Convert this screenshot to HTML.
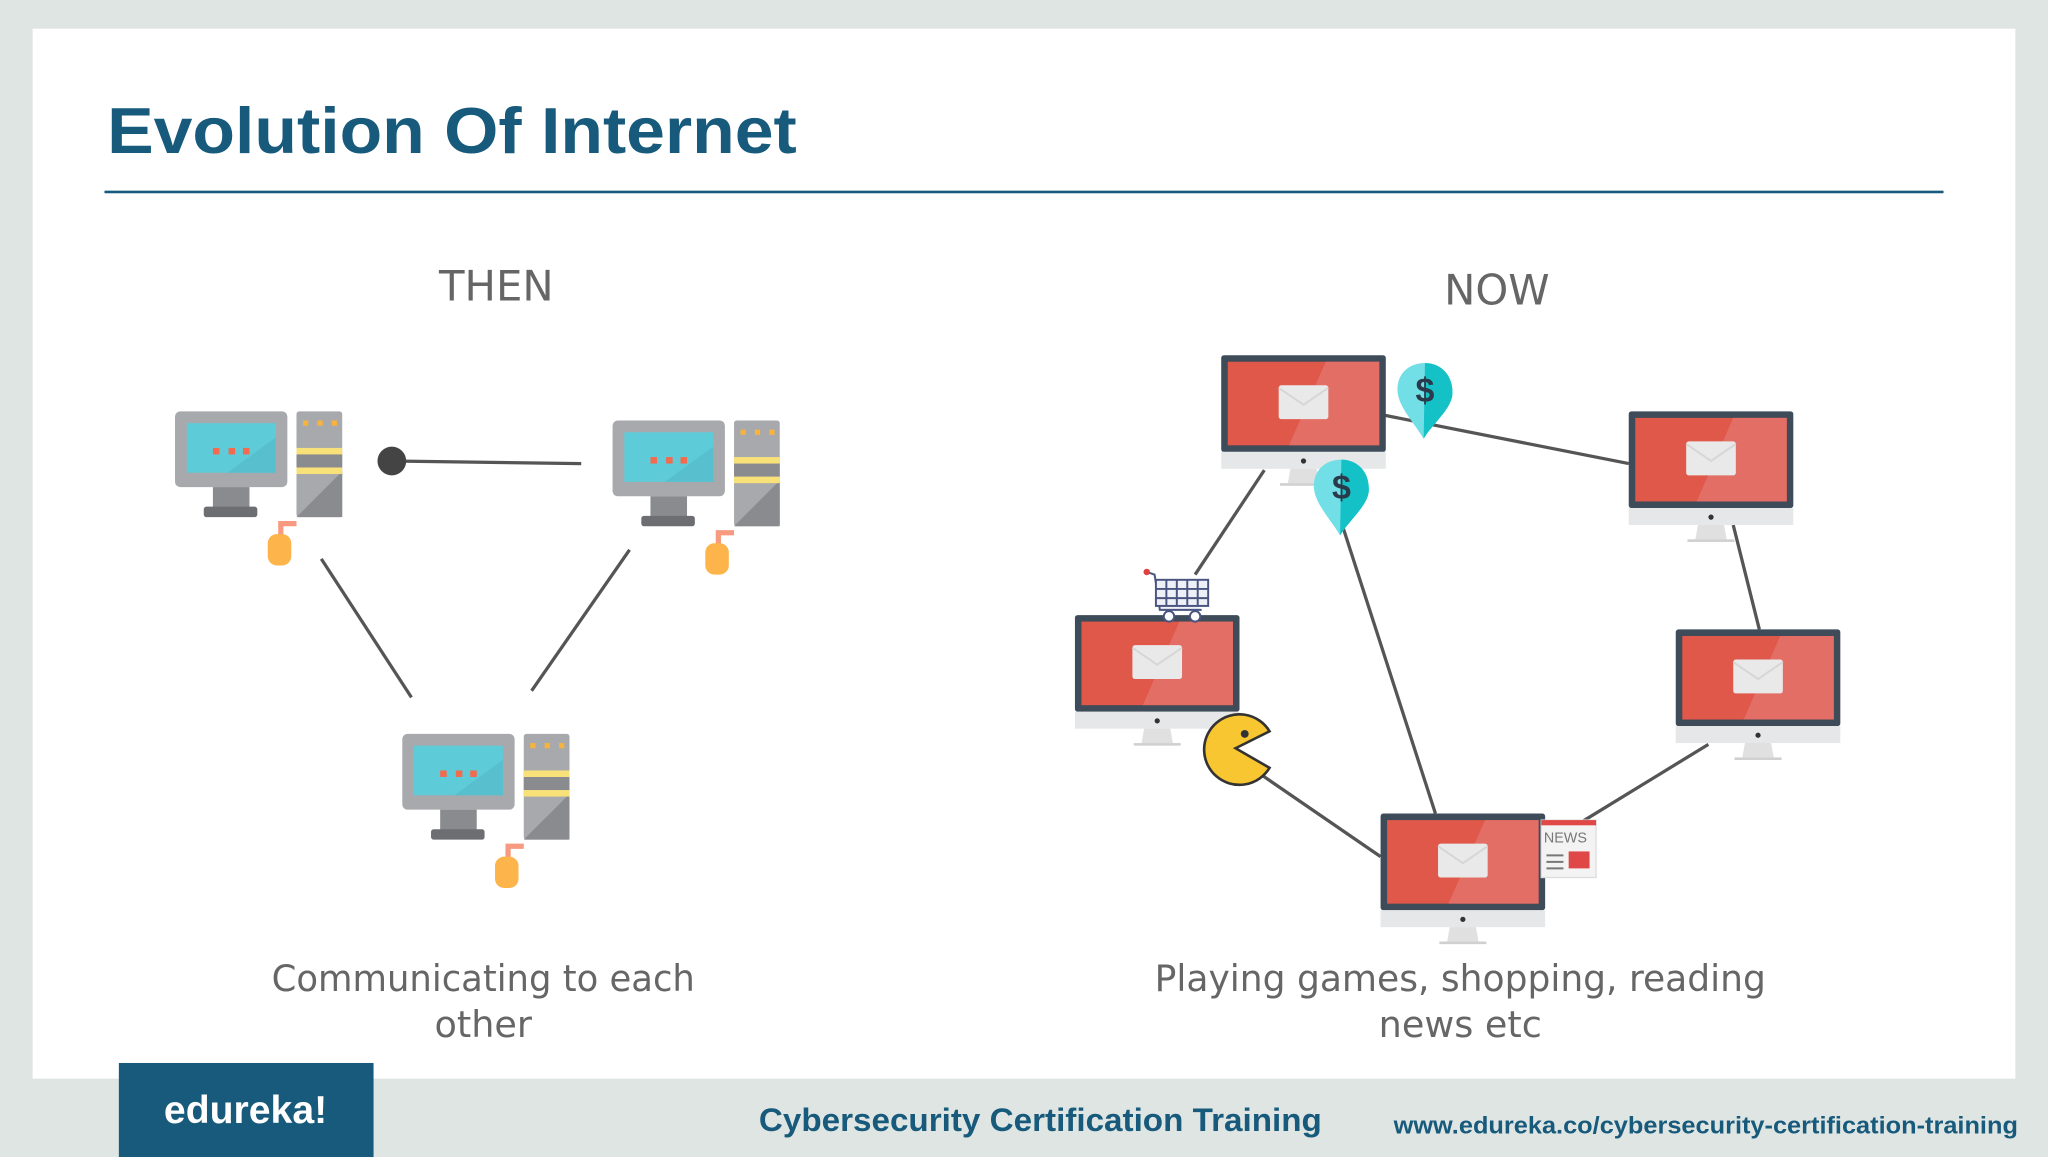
<!DOCTYPE html>
<html><head><meta charset="utf-8"><style>html,body{margin:0;padding:0;background:#dfe5e3}svg{display:block}</style></head>
<body>
<svg width="2048" height="1157" viewBox="0 0 1568 886" preserveAspectRatio="none" xmlns="http://www.w3.org/2000/svg">
<defs>
<g id="old">
<rect x="0" y="0" width="86" height="58" rx="4" fill="#a7a9ac"/>
<rect x="9" y="9" width="68" height="38" fill="#5ecbd9"/>
<path d="M40 47 L77 20 L77 47 Z" fill="#57bfcd"/>
<rect x="29" y="28" width="5" height="5" fill="#f26b4f"/><rect x="41" y="28" width="5" height="5" fill="#f26b4f"/><rect x="52" y="28" width="5" height="5" fill="#f26b4f"/>
<rect x="29" y="58" width="28" height="16" fill="#8a8b8e"/>
<rect x="22" y="73" width="41" height="8" rx="2" fill="#6d6e71"/>
<rect x="93" y="0" width="35" height="81" rx="2" fill="#a7a9ac"/>
<path d="M93 81 L128 46 L128 81 Z" fill="#8a8b8e"/>
<rect x="98" y="7" width="4" height="4" fill="#f7b33b"/><rect x="109" y="7" width="4" height="4" fill="#f7b33b"/><rect x="120" y="7" width="4" height="4" fill="#f7b33b"/>
<rect x="93" y="28" width="35" height="5" fill="#f9e17a"/><rect x="93" y="33" width="35" height="10" fill="#8a8b8e"/><rect x="93" y="43" width="35" height="5" fill="#f9e17a"/>
<path d="M93 86 L81 86 L81 96" stroke="#f79a80" stroke-width="4" fill="none"/>
<rect x="71" y="94" width="18" height="24" rx="7" fill="#fdb44b"/>
</g>
<g id="nw">
<rect x="0" y="0" width="126" height="74" rx="2" fill="#3e4b59"/>
<rect x="5" y="5" width="116" height="64" fill="#e0584a"/>
<path d="M80 5 L121 5 L121 69 L52 69 Z" fill="#e26e66"/>
<rect x="44" y="23" width="38" height="26" rx="2" fill="#e9e9e9"/>
<path d="M44 25 L63 38 L82 25" stroke="#d6d6d6" stroke-width="1.5" fill="none"/>
<rect x="0" y="74" width="126" height="13" fill="#e6e7e8"/>
<circle cx="63" cy="81" r="2" fill="#333"/>
<path d="M53 87 L73 87 L75 98 L51 98 Z" fill="#e0e0e0"/>
<rect x="45" y="98" width="36" height="2" fill="#d0d0d0"/>
</g>
<g id="pin">
<path d="M0 -22 C-13 -22 -22 -13 -21 0 C-20 12 -8 24 -1 36 C6 24 22 12 21 0 C21 -13 12 -22 0 -22 Z" fill="#71dfe5"/>
<path d="M0 -22 C12 -22 21 -13 21 0 C22 12 6 24 -1 36 Z" fill="#14c1c7"/>
<text x="0" y="8" text-anchor="middle" font-family="Liberation Sans, sans-serif" font-weight="bold" font-size="26" fill="#2b3a4a">$</text>
</g>
</defs>
<rect width="1568" height="886" fill="#dfe5e3"/>
<rect x="25" y="22" width="1518" height="804" fill="#fff"/>
<text x="82" y="117" font-family="Liberation Sans, sans-serif" font-weight="bold" font-size="50" fill="#175a7c" textLength="528" lengthAdjust="spacingAndGlyphs">Evolution Of Internet</text>
<rect x="80" y="146" width="1408" height="2" fill="#175a7c"/>

<text x="380" y="230" text-anchor="middle" font-family="DejaVu Sans, sans-serif" font-size="32" fill="#666">THEN</text>
<text x="1146" y="233" text-anchor="middle" font-family="DejaVu Sans, sans-serif" font-size="32" fill="#666">NOW</text>

<g stroke="#555" stroke-width="2.5">
<line x1="300" y1="353" x2="445" y2="355"/>
<line x1="246" y1="428" x2="315" y2="534"/>
<line x1="482" y1="421" x2="407" y2="529"/>
</g>
<circle cx="300" cy="353" r="11" fill="#444"/>
<use href="#old" x="134" y="315"/>
<use href="#old" x="469" y="322"/>
<use href="#old" x="308" y="562"/>

<g stroke="#555" stroke-width="2.5">
<line x1="1060" y1="318" x2="1247" y2="355"/>
<line x1="968" y1="360" x2="915" y2="440"/>
<line x1="1027" y1="400" x2="1099" y2="623"/>
<line x1="1327" y1="402" x2="1347" y2="482"/>
<line x1="1308" y1="570" x2="1210" y2="630"/>
<line x1="958" y1="588" x2="1057" y2="656"/>
</g>
<use href="#nw" x="935" y="272"/>
<use href="#nw" x="1247" y="315"/>
<use href="#nw" x="823" y="471"/>
<use href="#nw" x="1283" y="482"/>
<use href="#nw" x="1057" y="623"/>
<use href="#pin" x="1091" y="300"/>
<use href="#pin" x="1027" y="374"/>
<g stroke="#4a5480" stroke-width="1.5" fill="#eef0f7">
<path d="M878 438 L884 440 L888 467 L920 467"/>
<rect x="885" y="444" width="40" height="20"/>
<path d="M893 444 V464 M901 444 V464 M909 444 V464 M917 444 V464 M885 451 H925 M885 458 H925" fill="none"/>
<circle cx="895" cy="472" r="4" fill="#fff"/><circle cx="915" cy="472" r="4" fill="#fff"/>
</g>
<circle cx="878" cy="438" r="2.5" fill="#e04040"/>
<path d="M946 573 L972 560 A27 27 0 1 0 972 588 Z" fill="#f8c630" stroke="#333" stroke-width="2"/>
<circle cx="953" cy="562" r="3" fill="#333"/>
<rect x="1180" y="628" width="42" height="44" fill="#f3f3f3" stroke="#ddd"/>
<rect x="1180" y="628" width="42" height="4" fill="#e04848"/>
<text x="1182" y="645" font-family="Liberation Sans, sans-serif" font-size="11" fill="#777">NEWS</text>
<rect x="1201" y="652" width="16" height="13" fill="#e04848"/>
<path d="M1184 655 H1197 M1184 660 H1197 M1184 665 H1197" stroke="#777" stroke-width="1.5"/>

<text x="370" y="759" text-anchor="middle" font-family="DejaVu Sans, sans-serif" font-size="28" fill="#666" textLength="324" lengthAdjust="spacingAndGlyphs">Communicating to each</text>
<text x="370" y="794" text-anchor="middle" font-family="DejaVu Sans, sans-serif" font-size="28" fill="#666">other</text>
<text x="1118" y="759" text-anchor="middle" font-family="DejaVu Sans, sans-serif" font-size="28" fill="#666" textLength="468" lengthAdjust="spacingAndGlyphs">Playing games, shopping, reading</text>
<text x="1118" y="794" text-anchor="middle" font-family="DejaVu Sans, sans-serif" font-size="28" fill="#666">news etc</text>

<rect x="91" y="814" width="195" height="72" fill="#175a7c"/>
<text x="188" y="860" text-anchor="middle" font-family="Liberation Sans, sans-serif" font-weight="bold" font-size="30" fill="#fff">edureka!</text>
<text x="581" y="866" font-family="Liberation Sans, sans-serif" font-weight="bold" font-size="25" fill="#175a7c" textLength="431" lengthAdjust="spacingAndGlyphs">Cybersecurity Certification Training</text>
<text x="1067" y="868" font-family="Liberation Sans, sans-serif" font-weight="bold" font-size="18.5" fill="#175a7c" textLength="478" lengthAdjust="spacingAndGlyphs">www.edureka.co/cybersecurity-certification-training</text>
</svg>
</body></html>
